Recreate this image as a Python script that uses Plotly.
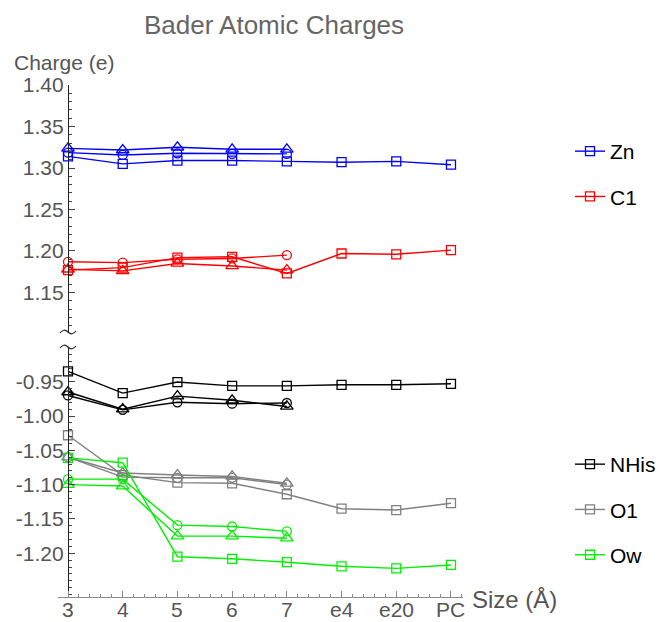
import plotly.graph_objects as go

# ---------------- data ----------------
x_labels = ["3", "4", "5", "6", "7", "e4", "e20", "PC"]
x_pos = [3, 4, 5, 6, 7, 8, 9, 10]

Zn_sq = [1.314, 1.305, 1.309, 1.309, 1.308, 1.307, 1.308, 1.304]
Zn_ci = [1.3185, 1.3157, 1.3177, 1.317, 1.317]
Zn_tr = [1.3237, 1.3217, 1.325, 1.3225, 1.3225]

C1_sq = [1.177, 1.180, 1.192, 1.193, 1.173, 1.197, 1.196, 1.201]
C1_ci = [1.187, 1.186, 1.190, 1.191, 1.195]
C1_tr = [1.178, 1.176, 1.185, 1.182, 1.177]

NHis_sq = [-0.935, -0.9666, -0.9505, -0.956, -0.956, -0.9545, -0.9545, -0.953]
NHis_ci = [-0.970, -0.991, -0.980, -0.982, -0.981]
NHis_tr = [-0.965, -0.990, -0.971, -0.977, -0.986]

O1_sq = [-1.028, -1.086, -1.097, -1.098, -1.114, -1.135, -1.137, -1.127]
O1_ci = [-1.060, -1.089, -1.090, -1.090, -1.100]
O1_tr = [-1.060, -1.083, -1.086, -1.088, -1.098]

Ow_sq = [-1.061, -1.068, -1.205, -1.208, -1.213, -1.219, -1.222, -1.217]
Ow_ci = [-1.092, -1.092, -1.159, -1.161, -1.168]
Ow_tr = [-1.100, -1.102, -1.175, -1.175, -1.178]

upper_ticks = [1.15, 1.20, 1.25, 1.30, 1.35, 1.40]
upper_ticktext = ["1.15", "1.20", "1.25", "1.30", "1.35", "1.40"]
lower_ticks = [-1.20, -1.15, -1.10, -1.05, -1.00, -0.95]
lower_ticktext = ["-1.20", "-1.15", "-1.10", "-1.05", "-1.00", "-0.95"]

# ---------------- layout geometry ----------------
# page body has an 8px margin, so the figure is 8px smaller on each axis
OFF = 8
W, H = 663 - OFF, 622 - OFF
# plot area in reference-screen pixels
RL, RR, RT, RB = 58, 463, 85, 597
ML, MT = RL - OFF, RT - OFF
MR, MB = W - (RR - OFF), H - (RB - OFF)
PW, PH = RR - RL, RB - RT
FONT = "Liberation Sans, Arial, Helvetica, sans-serif"

def px(xr):
    return (xr - RL) / PW

def py(yr):
    return (RB - yr) / PH

upper_dom = [py(332), 1.0]
lower_dom = [0.0, py(347)]

fig = go.Figure()

series = [
    ("Zn", "#0000ff", "y2", Zn_sq, Zn_ci, Zn_tr, "legend"),
    ("C1", "#ff0000", "y2", C1_sq, C1_ci, C1_tr, "legend"),
    ("NHis", "#000000", "y", NHis_sq, NHis_ci, NHis_tr, "legend2"),
    ("O1", "#808080", "y", O1_sq, O1_ci, O1_tr, "legend2"),
    ("Ow", "#00f000", "y", Ow_sq, Ow_ci, Ow_tr, "legend2"),
]

for name, col, yax, sq, ci, tr, leg in series:
    fig.add_trace(go.Scatter(
        x=x_pos[:len(ci)], y=ci, yaxis=yax, mode="lines+markers",
        line=dict(color=col, width=1.4),
        marker=dict(symbol="circle-open", size=9, color=col, line=dict(width=1.3, color=col)),
        showlegend=False, legendgroup=name + "_c", legend=leg))
    fig.add_trace(go.Scatter(
        x=x_pos[:len(tr)], y=tr, yaxis=yax, mode="lines+markers",
        line=dict(color=col, width=1.4),
        marker=dict(symbol="triangle-up-open", size=11, color=col, line=dict(width=1.3, color=col)),
        showlegend=False, legendgroup=name + "_t", legend=leg))
    fig.add_trace(go.Scatter(
        x=x_pos[:len(sq)], y=sq, yaxis=yax, mode="lines+markers", name=name,
        line=dict(color=col, width=1.4),
        marker=dict(symbol="square-open", size=9, color=col, line=dict(width=1.3, color=col)),
        showlegend=True, legendgroup=name, legend=leg))

tickfont = dict(family=FONT, size=21, color="#555555")

annotations = [
    dict(text="Charge (e)", xref="paper", yref="paper", x=px(12), y=py(62),
         xanchor="left", yanchor="middle", showarrow=False,
         font=dict(family=FONT, size=21, color="#555555")),
    dict(text="Size (Å)", xref="paper", yref="paper", x=px(470), y=py(599),
         xanchor="left", yanchor="middle", showarrow=False,
         font=dict(family=FONT, size=24, color="#555555")),
]
# x tick labels (drawn close under the axis like the reference)
for xv, lab in zip(x_pos, x_labels):
    annotations.append(dict(text=lab, xref="x", yref="paper", x=xv, y=py(609),
                            xanchor="center", yanchor="middle", showarrow=False,
                            font=dict(family=FONT, size=21, color="#555555")))

fig.update_layout(
    width=W, height=H,
    margin=dict(l=ML, r=MR, t=MT, b=MB, pad=0, autoexpand=False),
    paper_bgcolor="white", plot_bgcolor="white",
    font=dict(family=FONT),
    title=dict(text="Bader Atomic Charges", x=(274 - OFF) / W, xref="container", xanchor="center",
               y=1 - (25 - OFF) / H, yref="container", yanchor="middle",
               font=dict(family=FONT, size=26, color="#666666")),
    xaxis=dict(
        range=[3 - 10 / 54.71, 3 + 395 / 54.71], anchor="y",
        tickmode="array", tickvals=x_pos, ticktext=x_labels, showticklabels=False,
        showgrid=False, zeroline=False, showline=True, linecolor="#8a8a8a", linewidth=1.2,
        ticks="inside", ticklen=6, tickcolor="#8a8a8a", tickwidth=1,
        minor=dict(tick0=3, dtick=0.2, ticks="inside", ticklen=3, tickcolor="#8a8a8a", showgrid=False),
        automargin=False,
    ),
    yaxis=dict(
        domain=lower_dom, range=[-1.2637, -0.8994], anchor="free", position=px(68),
        tickmode="array", tickvals=lower_ticks, ticktext=lower_ticktext,
        showgrid=False, zeroline=False, showline=True, linecolor="#222222", linewidth=1.2,
        ticks="inside", ticklen=6, tickcolor="#444444",
        minor=dict(tickmode="linear", tick0=-1.20, dtick=0.01, ticks="inside", ticklen=3, tickcolor="#444444", showgrid=False),
        tickfont=tickfont, automargin=False,
    ),
    yaxis2=dict(
        domain=upper_dom, range=[1.1024, 1.40], anchor="free", position=px(68),
        tickmode="array", tickvals=upper_ticks, ticktext=upper_ticktext,
        showgrid=False, zeroline=False, showline=True, linecolor="#222222", linewidth=1.2,
        ticks="inside", ticklen=6, tickcolor="#444444",
        minor=dict(tickmode="linear", tick0=1.15, dtick=0.01, ticks="inside", ticklen=3, tickcolor="#444444", showgrid=False),
        tickfont=tickfont, automargin=False,
    ),
    legend=dict(x=px(570), xanchor="left", y=py(131), yanchor="top",
                font=dict(family=FONT, size=21, color="black"),
                bgcolor="rgba(0,0,0,0)", tracegroupgap=15, itemwidth=30),
    legend2=dict(x=px(570), xanchor="left", y=py(444), yanchor="top",
                 font=dict(family=FONT, size=21, color="black"),
                 bgcolor="rgba(0,0,0,0)", tracegroupgap=15, itemwidth=30),
    annotations=annotations,
)

# axis break squiggles
def squiggle(cx, cy):
    pts = [(cx - 8, cy + 1), (cx - 4, cy - 4), (cx, cy), (cx + 4, cy + 4), (cx + 8, cy - 1)]
    p = [(px(a), py(b)) for a, b in pts]
    return "M {},{} Q {},{} {},{} Q {},{} {},{}".format(
        p[0][0], p[0][1], p[1][0], p[1][1], p[2][0], p[2][1], p[3][0], p[3][1], p[4][0], p[4][1])

shapes = []
for cy in (332, 347):
    shapes.append(dict(type="path", xref="paper", yref="paper", path=squiggle(68, cy),
                       line=dict(color="#222222", width=1.2)))
fig.update_layout(shapes=shapes)

fig.write_html("out.html")
